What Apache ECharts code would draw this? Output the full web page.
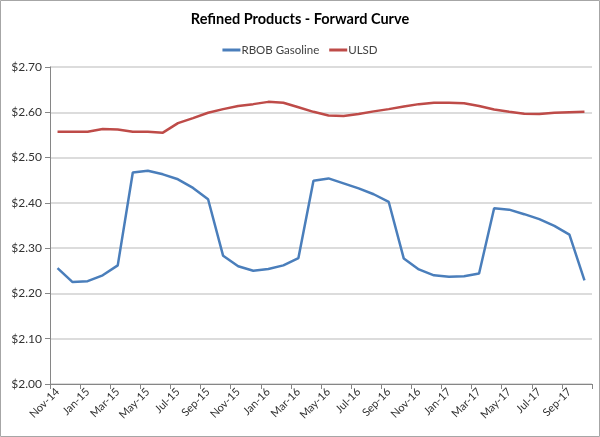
<!DOCTYPE html>
<html>
<head>
<meta charset="utf-8">
<script src="https://cdn.jsdelivr.net/npm/echarts@6/dist/echarts.min.js"></script>
<style>
  html, body { margin: 0; padding: 0; background: #fff; }
  #main { width: 600px; height: 437px; }
</style>
</head>
<body>
<div id="main"></div>
<script>
// monthly contract months, Nov-14 .. Oct-17
var months = ['Nov-14','Dec-14','Jan-15','Feb-15','Mar-15','Apr-15','May-15','Jun-15','Jul-15','Aug-15','Sep-15','Oct-15',
              'Nov-15','Dec-15','Jan-16','Feb-16','Mar-16','Apr-16','May-16','Jun-16','Jul-16','Aug-16','Sep-16','Oct-16',
              'Nov-16','Dec-16','Jan-17','Feb-17','Mar-17','Apr-17','May-17','Jun-17','Jul-17','Aug-17','Sep-17','Oct-17'];

var rbob = [2.256, 2.225, 2.227, 2.240, 2.262, 2.467, 2.471, 2.463, 2.452, 2.433, 2.408, 2.283,
            2.260, 2.250, 2.254, 2.262, 2.278, 2.449, 2.454, 2.443, 2.432, 2.419, 2.402, 2.277,
            2.253, 2.240, 2.237, 2.238, 2.244, 2.388, 2.385, 2.375, 2.364, 2.349, 2.330, 2.229];

var ulsd = [2.557, 2.557, 2.557, 2.563, 2.562, 2.557, 2.557, 2.555, 2.576, 2.587, 2.599, 2.607,
            2.614, 2.618, 2.623, 2.621, 2.611, 2.601, 2.593, 2.592, 2.596, 2.602, 2.607, 2.613,
            2.618, 2.621, 2.621, 2.620, 2.614, 2.606, 2.601, 2.597, 2.596, 2.599, 2.600, 2.601];

var font = 'Lato, "Open Sans", sans-serif';

var myChart = echarts.init(document.getElementById('main'));

var option = {
    animation: false,
    textStyle: { fontFamily: font },
    graphic: [{
        type: 'rect',
        shape: { x: 0.5, y: 0.5, width: 599, height: 436 },
        style: { fill: 'none', stroke: '#a6a6a6', lineWidth: 1 },
        silent: true
    }],
    title: {
        text: 'Refined Products - Forward Curve',
        left: 'center',
        top: 7,
        textStyle: { fontFamily: font, fontSize: 14.5, fontWeight: 'bold', color: '#000' }
    },
    legend: {
        top: 39,
        left: 'center',
        itemWidth: 18,
        itemHeight: 3,
        itemGap: 10,
        icon: 'rect',
        textStyle: { fontFamily: font, fontSize: 11.5, color: '#404040', padding: [0, 0, 0, -4] },
        data: ['RBOB Gasoline', 'ULSD']
    },
    grid: { left: 50, right: 8, top: 67, bottom: 53, containLabel: false },
    xAxis: {
        type: 'category',
        data: months,
        boundaryGap: true,
        axisLine: { lineStyle: { color: '#868686', width: 1 } },
        axisTick: { show: true, interval: 1, length: 5, lineStyle: { color: '#868686' } },
        axisLabel: { interval: 1, rotate: 45, fontSize: 11, color: '#333', margin: 6, fontFamily: font }
    },
    yAxis: {
        type: 'value',
        min: 2.0,
        max: 2.7,
        interval: 0.1,
        axisLine: { show: true, lineStyle: { color: '#868686' } },
        axisTick: { show: true, length: 5, lineStyle: { color: '#868686' } },
        axisLabel: {
            fontSize: 12, color: '#333', margin: 8, fontFamily: font,
            formatter: function (v) { return '$' + v.toFixed(2); }
        },
        splitLine: { lineStyle: { color: '#d0d0d0', width: 1.5 } }
    },
    series: [{
        name: 'RBOB Gasoline',
        type: 'line',
        data: rbob,
        symbol: 'none',
        itemStyle: { color: '#4a7ebb' },
        lineStyle: { color: '#4a7ebb', width: 2.5 }
    }, {
        name: 'ULSD',
        type: 'line',
        data: ulsd,
        symbol: 'none',
        itemStyle: { color: '#be4b48' },
        lineStyle: { color: '#be4b48', width: 2.5 }
    }]
};

myChart.setOption(option);
</script>
</body>
</html>
